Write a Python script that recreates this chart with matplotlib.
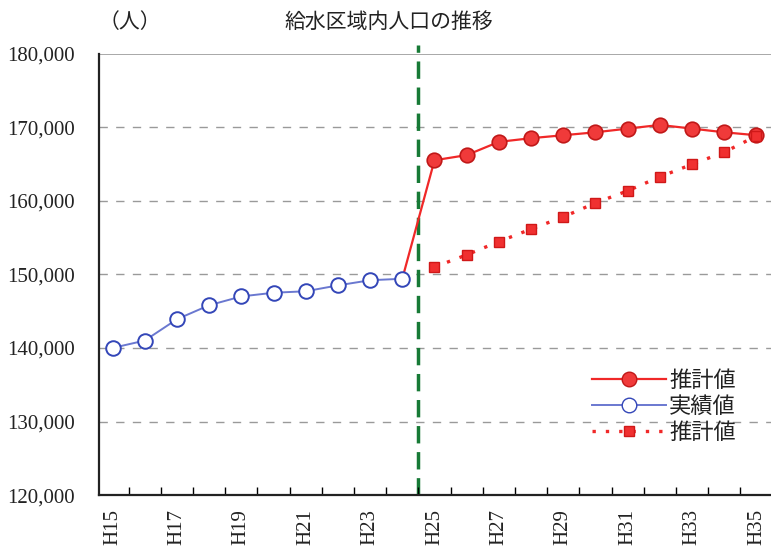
import numpy as np
import matplotlib.pyplot as plt
from matplotlib.ticker import FuncFormatter

# data
years = ["H%d" % y for y in range(15, 36)]
actual = [140000, 141000, 143900, 145800, 147000, 147500, 147700, 148500, 149200, 149400]
forecast = [149400, 165500, 166200, 168000, 168500, 168900, 169300, 169800, 170300,
            169800, 169300, 168900]
forecast2 = [151000, 152650, 154450, 156150, 157800, 159700, 161350, 163250, 164950,
             166600, 168800]

jp = ['Noto Sans CJK JP', 'DejaVu Sans']
serif = 'Liberation Serif'

x = np.arange(len(years))
x_act = x[:len(actual)]
x_fc = x[len(actual) - 1:]
x_fc2 = x[len(actual):]

fig = plt.figure(figsize=(7.71, 5.52), dpi=100)
ax = fig.add_axes([0.128, 0.103, 0.874, 0.800])

for v in [130000, 140000, 150000, 160000, 170000]:
    ax.axhline(v, color='#9a9a9a', lw=1, ls=(0, (6, 6)), zorder=0)
ax.axhline(180000, color='#9a9a9a', lw=1.2, zorder=0)

ax.axvline(len(actual) - 0.5, ymin=0, ymax=1.02, clip_on=False,
           color='#177a36', lw=2.5, ls=(0, (5, 2.5)), zorder=1)

ax.plot(x_fc, forecast, color='#f02828', lw=1.6, marker='o', ms=10.5,
        mfc='#f03a3a', mec='#c01818', mew=1.2, markevery=list(range(1, len(forecast))),
        zorder=3)
ax.plot(x_act, actual, color='#6a78d0', lw=1.4, marker='o', ms=10.5,
        mfc='white', mec='#3346b8', mew=1.4, zorder=4)
ax.plot(x_fc2, forecast2, color='#f02828', lw=2.4, ls=(0, (1, 3)), marker='s', ms=6.5,
        mfc='#f03030', mec='#d01818', zorder=3)

# legend entries
h1, = ax.plot([], [], color='#f02828', lw=1.6, marker='o', ms=10.5, mfc='#f03a3a', mec='#c01818')
h2, = ax.plot([], [], color='#6a78d0', lw=1.4, marker='o', ms=10.5, mfc='white', mec='#3346b8')
h3, = ax.plot([], [], color='#f02828', lw=2.4, ls=(0, (1, 3)), marker='s', ms=6.5,
              mfc='#f03030', mec='#d01818')
leg = ax.legend([h1, h2, h3], ['推計値', '実績値', '推計値'], loc='lower right',
                bbox_to_anchor=(0.975, 0.07), frameon=False, handlelength=3.3,
                handletextpad=0.15, labelspacing=0.15, prop={'family': jp, 'size': 16})
for t in leg.get_texts():
    t.set_color('#222222')

ax.set_xlim(-0.43, len(years) - 0.5)
ax.set_ylim(120000, 180000)
ax.set_yticks(np.arange(120000, 180001, 10000))
ax.yaxis.set_major_formatter(FuncFormatter(lambda v, p: f"{int(v):,}"))
ax.set_xticks(x[::2])
ax.set_xticklabels(years[::2], rotation=90)
ax.set_xticks(np.arange(0.5, len(years)), minor=True)
ax.tick_params(axis='x', which='major', length=0, pad=10)
ax.tick_params(axis='x', which='minor', direction='in', length=6, width=1)
ax.tick_params(axis='y', direction='in', length=0, pad=17)
for lab in ax.get_xticklabels() + ax.get_yticklabels():
    lab.set_fontfamily(serif)
    lab.set_fontsize(15)
    lab.set_color('#222222')

for s in ['top', 'right']:
    ax.spines[s].set_visible(False)
for s in ['left', 'bottom']:
    ax.spines[s].set_linewidth(1.6)
    ax.spines[s].set_color('#222222')

fig.text(0.505, 0.96, '給水区域内人口の推移', ha='center', va='center',
         family=jp, fontsize=15, color='#222222')
fig.text(0.168, 0.96, '（人）', ha='center', va='center',
         family=jp, fontsize=15, color='#222222')

fig.savefig('out.png', dpi=100)
